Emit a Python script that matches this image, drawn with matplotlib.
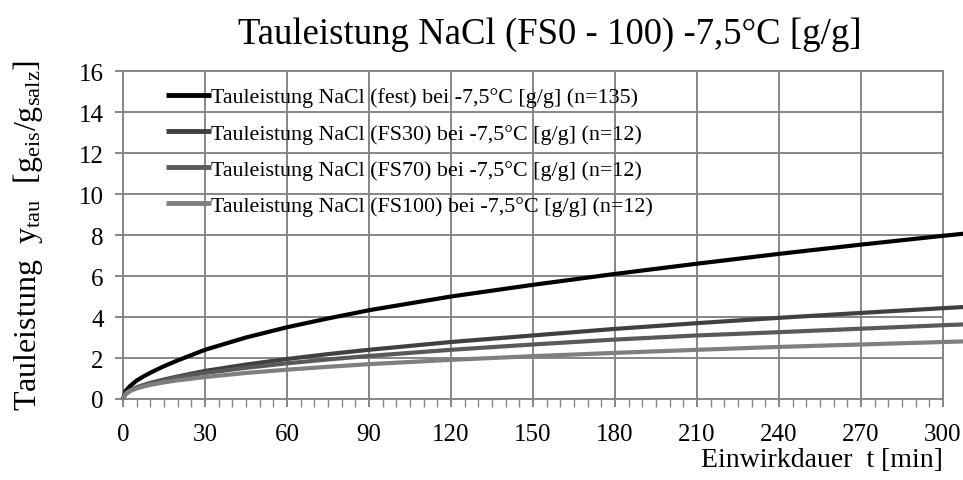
import matplotlib
matplotlib.use("Agg")
import matplotlib.pyplot as plt
from matplotlib.ticker import MultipleLocator

plt.rcParams["font.family"] = ["Liberation Serif", "DejaVu Serif"]
plt.rcParams["mathtext.fontset"] = "custom"
plt.rcParams["mathtext.rm"] = "Liberation Serif"
plt.rcParams["mathtext.it"] = "Liberation Serif:italic"

# Einwirkdauer [min]
t_min = [0, 1, 2.5, 5, 7.5, 10, 15, 20, 30, 45, 60, 75, 90, 120, 150, 180, 210, 240, 270, 300, 308]

# Tauleistung [g/g]
y_fest = [0, 0.4, 0.62, 0.9, 1.1, 1.28, 1.6, 1.88, 2.4, 3.0, 3.5, 3.93, 4.33, 5.0, 5.57, 6.1, 6.6, 7.08, 7.53, 7.96, 8.07]
y_fs30 = [0, 0.24, 0.38, 0.55, 0.67, 0.78, 0.95, 1.1, 1.37, 1.68, 1.95, 2.19, 2.4, 2.78, 3.1, 3.42, 3.7, 3.96, 4.2, 4.43, 4.49]
y_fs70 = [0, 0.28, 0.42, 0.57, 0.68, 0.78, 0.93, 1.06, 1.27, 1.52, 1.74, 1.93, 2.1, 2.4, 2.66, 2.9, 3.1, 3.26, 3.43, 3.6, 3.64]
y_fs100 = [0, 0.27, 0.39, 0.52, 0.61, 0.69, 0.81, 0.91, 1.07, 1.27, 1.43, 1.57, 1.7, 1.91, 2.09, 2.25, 2.4, 2.54, 2.66, 2.78, 2.81]

series_labels = [
    "Tauleistung NaCl (fest) bei -7,5°C [g/g] (n=135)",
    "Tauleistung NaCl (FS30) bei -7,5°C [g/g] (n=12)",
    "Tauleistung NaCl (FS70) bei -7,5°C [g/g] (n=12)",
    "Tauleistung NaCl (FS100) bei -7,5°C [g/g] (n=12)",
]
series_colors = ["#000000", "#404040", "#595959", "#7f7f7f"]

x_ticks = [0, 30, 60, 90, 120, 150, 180, 210, 240, 270, 300]
y_ticks = [0, 2, 4, 6, 8, 10, 12, 14, 16]

fig = plt.figure(figsize=(9.63, 4.81), dpi=100)
ax = fig.add_axes([0.1277, 0.1684, 0.8515, 0.6819])

grid_color = "#868686"
for series, lab, col in zip([y_fest, y_fs30, y_fs70, y_fs100], series_labels, series_colors):
    ax.plot(t_min, series, color=col, lw=3.0, label=lab, clip_on=False,
            solid_capstyle="butt", solid_joinstyle="round", zorder=3)

ax.set_xlim(0, 300)
ax.set_ylim(0, 16)
ax.set_xticks(x_ticks)
ax.set_yticks(y_ticks)
ax.xaxis.set_minor_locator(MultipleLocator(5))
ax.grid(True, which="major", color=grid_color, lw=1.4)
ax.set_axisbelow(True)
for s in ax.spines.values():
    s.set_color(grid_color)
    s.set_linewidth(1.4)
ax.tick_params(axis="both", which="major", direction="out", length=6,
               width=1.4, color=grid_color, labelsize=18)
ax.tick_params(axis="y", which="major", pad=8)
ax.tick_params(axis="x", which="major", pad=11)
ax.tick_params(axis="x", which="minor", direction="out", length=6,
               width=1.0, color=grid_color)

ax.set_title("Tauleistung NaCl (FS0 - 100) -7,5°C [g/g]", fontsize=26.5,
             x=0.52, pad=20)
ax.set_ylabel(r"Tauleistung  y$_{\rm tau}$  [g$_{\rm eis}$/g$_{\rm salz}$]",
              fontsize=23, labelpad=24)
ax.set_xlabel("Einwirkdauer  t [min]", fontsize=20, loc="right", labelpad=2)

leg = ax.legend(loc="upper left", bbox_to_anchor=(0.034, 0.998), frameon=False,
                fontsize=15.8, handlelength=2.05, handletextpad=0.0,
                labelspacing=0.72, borderpad=0.2)
for h in leg.get_lines():
    h.set_linewidth(3.5)

fig.savefig("out.png", dpi=100)
